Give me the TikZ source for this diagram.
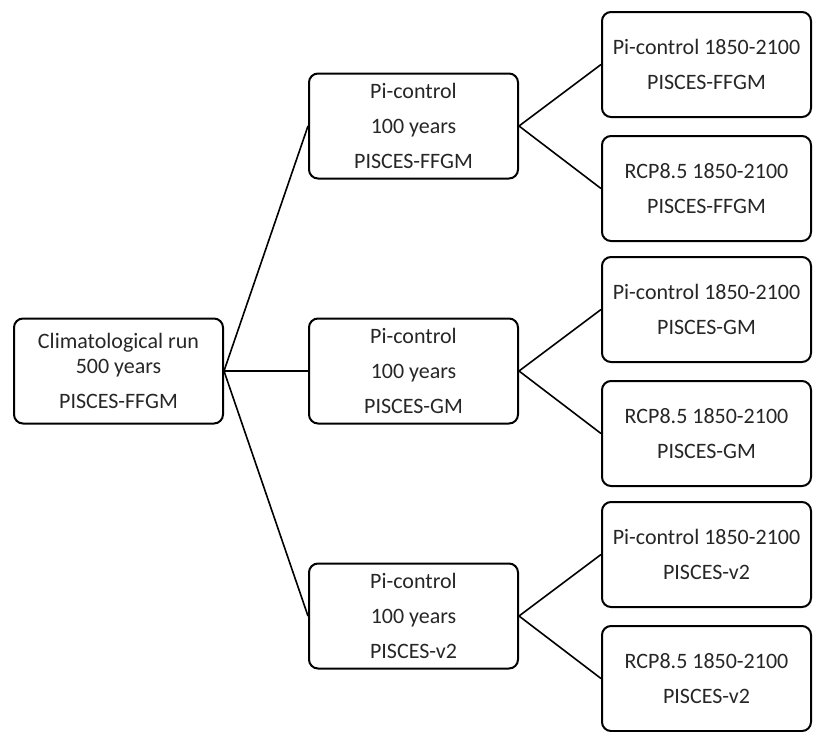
\documentclass[tikz,border=0pt]{standalone}
\usepackage{fontspec}
\setmainfont{Carlito}
\usepackage{tikz}
\usetikzlibrary{positioning}

\begin{document}
\begin{tikzpicture}[
    x=1pt, y=1pt,
    box/.style={draw, rounded corners=9pt, line width=2pt, minimum width=209pt,
                minimum height=105pt, align=center, text=black!85,
                font=\fontsize{22}{35}\selectfont},
    link/.style={line width=1.6pt}
]
\useasboundingbox (0,0) rectangle (822,-731);
\node[box, font=\fontsize{22}{25}\selectfont] (clim) at (118.5,-371) {Climatological run\\500 years\\[10pt]PISCES-FFGM};
\node[box, right=84pt of clim] (ctlgm) {Pi-control\\100 years\\PISCES-GM};
\node[box, above=138pt of ctlgm] (ctlffgm) {Pi-control\\100 years\\PISCES-FFGM};
\node[box, below=138pt of ctlgm] (ctlvtwo) {Pi-control\\100 years\\PISCES-v2};
\node[box, right=82pt of ctlffgm, yshift=61.5pt] (piffgm) {Pi-control 1850-2100\\PISCES-FFGM};
\node[box, below=17pt of piffgm] (rcpffgm) {RCP8.5 1850-2100\\PISCES-FFGM};
\node[box, right=82pt of ctlgm, yshift=61.5pt] (pigm) {Pi-control 1850-2100\\PISCES-GM};
\node[box, below=17pt of pigm] (rcpgm) {RCP8.5 1850-2100\\PISCES-GM};
\node[box, right=82pt of ctlvtwo, yshift=61.5pt] (pivtwo) {Pi-control 1850-2100\\PISCES-v2};
\node[box, below=17pt of pivtwo] (rcpvtwo) {RCP8.5 1850-2100\\PISCES-v2};
\draw[link] (clim.east) -- (ctlffgm.west);
\draw[link] (clim.east) -- (ctlgm.west);
\draw[link] (clim.east) -- (ctlvtwo.west);
\draw[link] (ctlffgm.east) -- (piffgm.west);
\draw[link] (ctlffgm.east) -- (rcpffgm.west);
\draw[link] (ctlgm.east) -- (pigm.west);
\draw[link] (ctlgm.east) -- (rcpgm.west);
\draw[link] (ctlvtwo.east) -- (pivtwo.west);
\draw[link] (ctlvtwo.east) -- (rcpvtwo.west);
\end{tikzpicture}
\end{document}
